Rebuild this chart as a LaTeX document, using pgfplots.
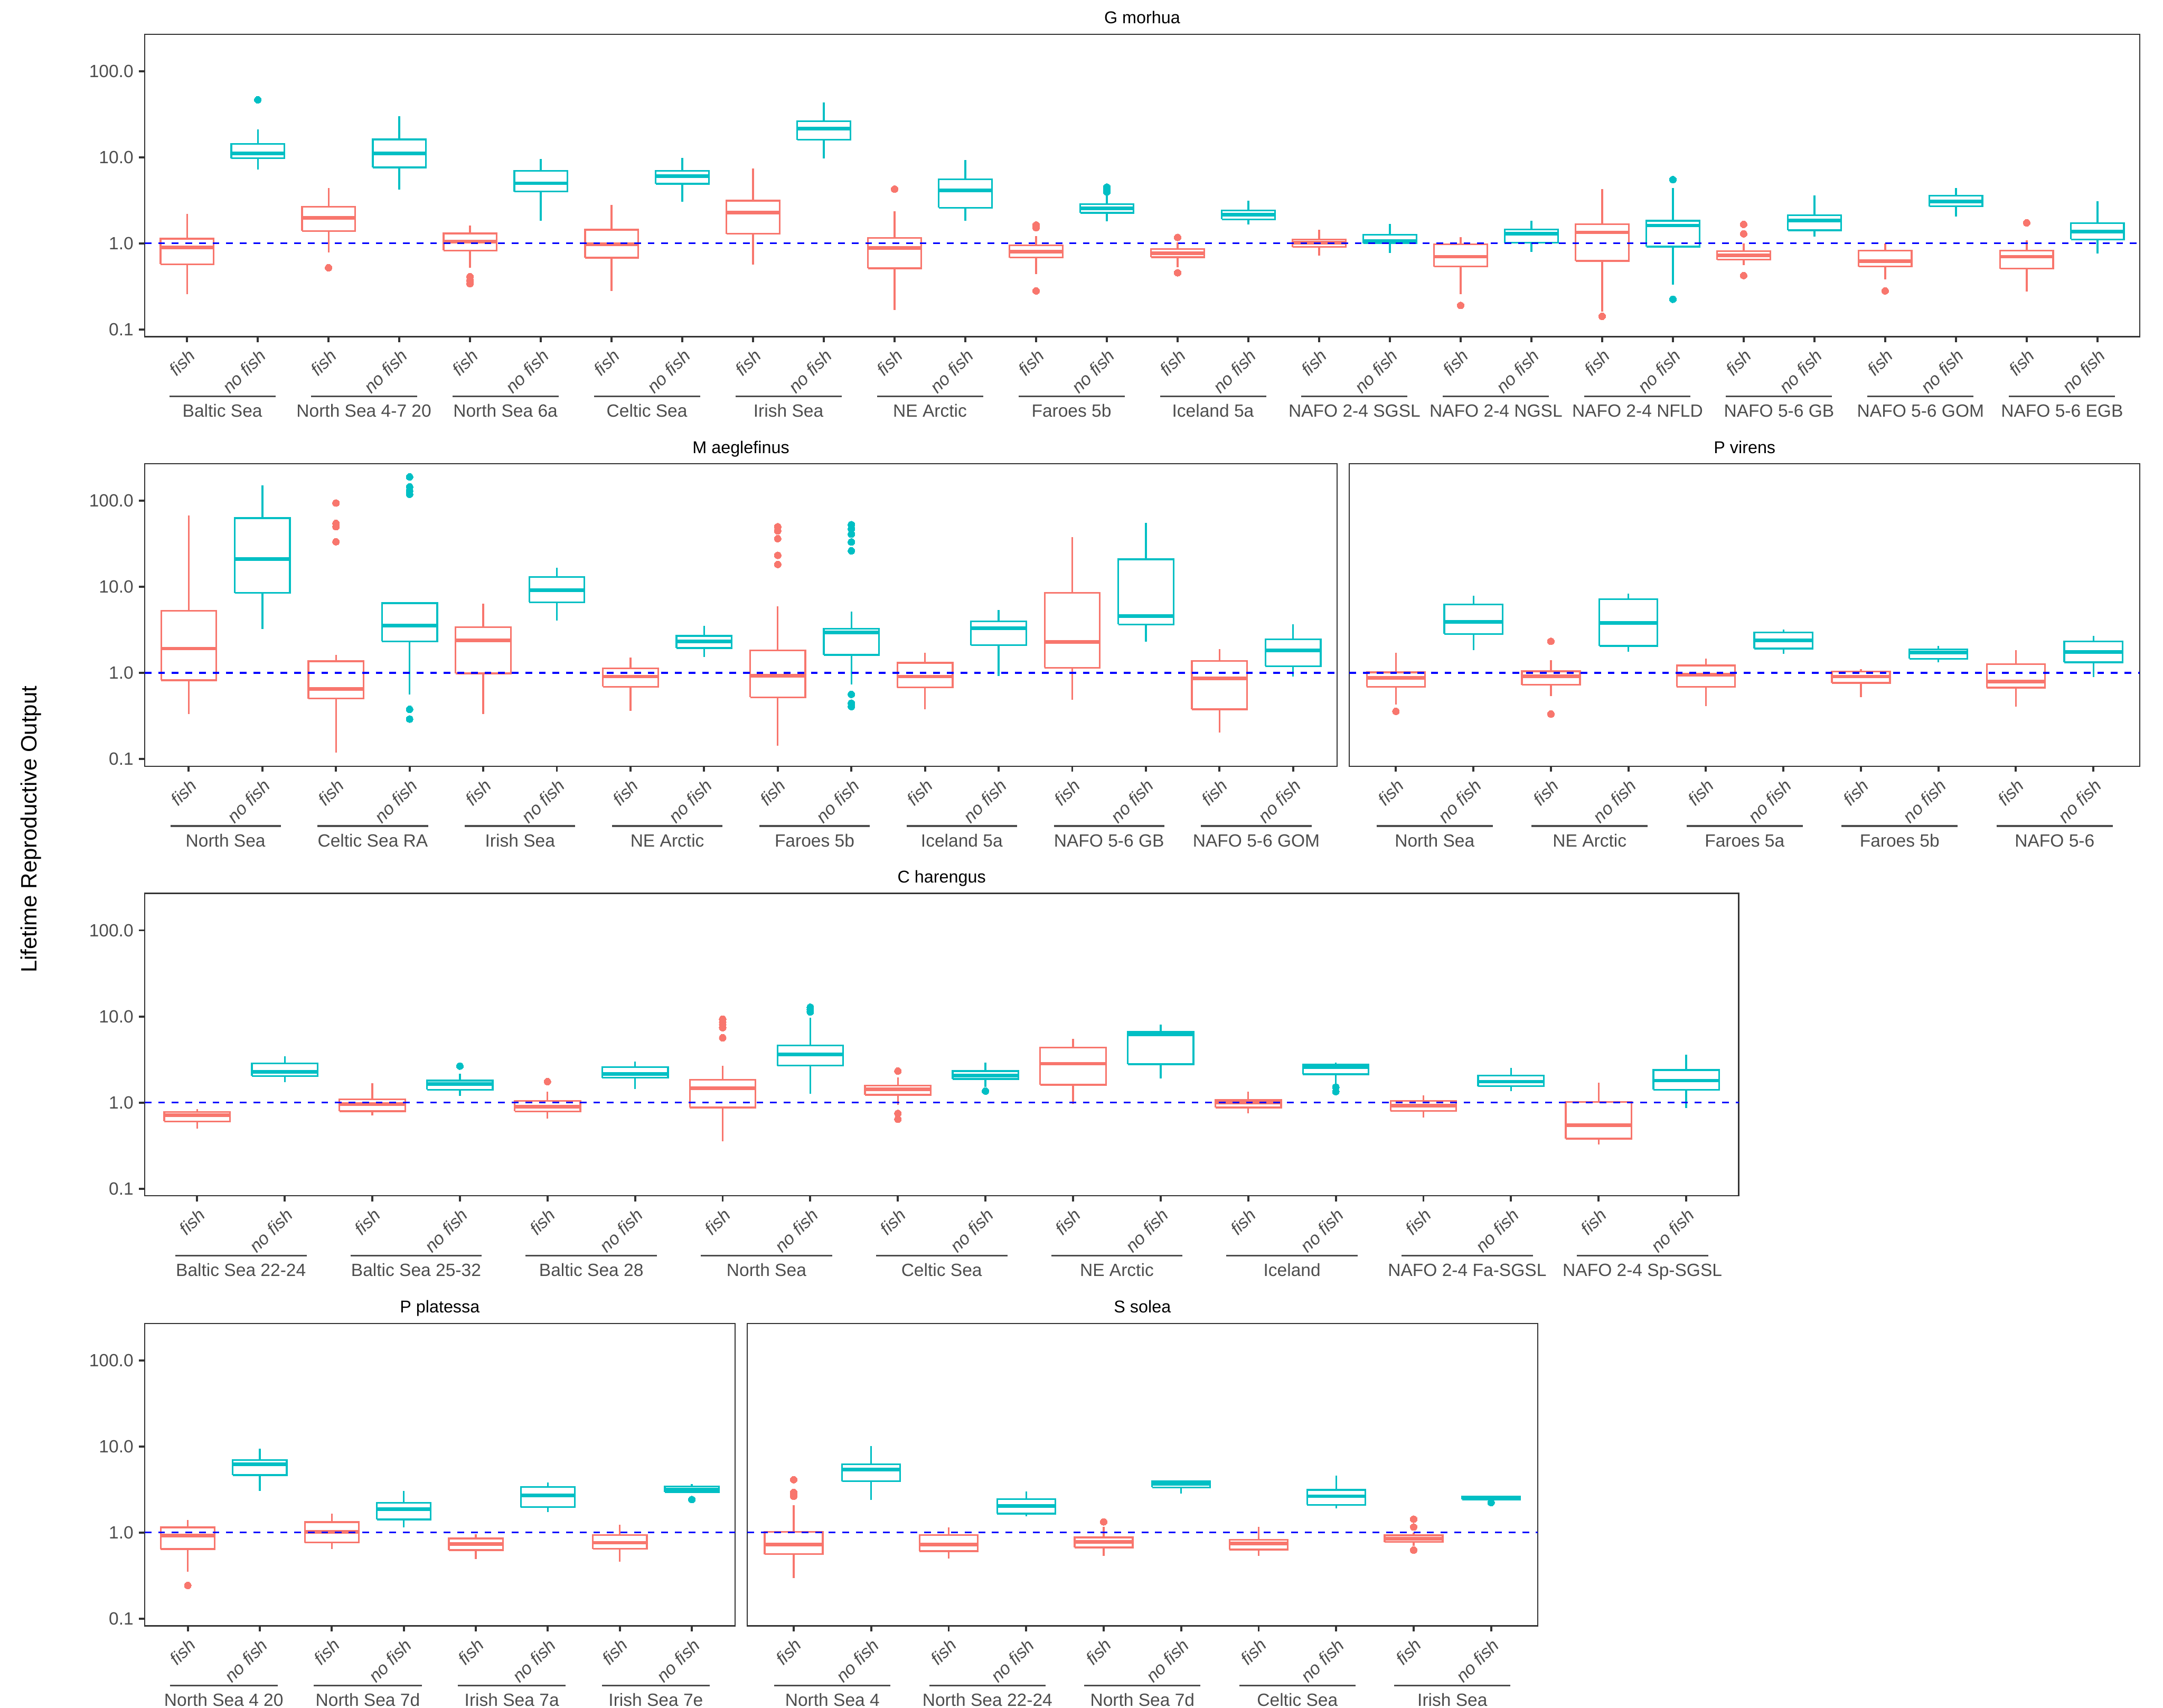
\documentclass[border=0pt]{standalone}
\usepackage{pgfplots}
\pgfplotsset{compat=1.18}
\usepackage{fontspec}
\setmainfont{Liberation Sans}
\definecolor{cfish}{HTML}{F8766D}
\definecolor{cnofish}{HTML}{00BFC4}
\definecolor{gry}{HTML}{4D4D4D}
\definecolor{frm}{HTML}{333333}
\newcommand{\lblfont}{\fontsize{11.2}{13}\selectfont}
\pgfplotsset{every axis/.append style={
   scale only axis, clip=false,
   yminorticks=false, xminorticks=false,
   tick align=outside, major tick length=3.5pt,
   xtick pos=left, ytick pos=left,
   axis line style={draw=frm, line width=0.75pt},
   major tick style={draw=frm, line width=1.3pt},
   yticklabel style={font=\lblfont, text=gry},
   xticklabel style={font=\lblfont\itshape, text=gry, yshift=-3.6pt, rotate=45, anchor=north east, inner sep=0pt},
   title style={font=\fontsize{10.8}{13}\selectfont, anchor=base, yshift=0.7pt},
 }}
% #1 colour, #2 position, #3 lower whisker, #4 Q1, #5 median, #6 Q3, #7 upper whisker
\newcommand{\bx}[7]{%
  \pgfmathsetmacro\bxl{#2-0.375}\pgfmathsetmacro\bxr{#2+0.375}%
  \addplot[draw=#1, line width=1.1pt, forget plot] coordinates {(#2,#3) (#2,#4)};
  \addplot[draw=#1, line width=1.1pt, forget plot] coordinates {(#2,#6) (#2,#7)};
  \addplot[draw=#1, fill=white, line width=1.1pt, forget plot] coordinates {(\bxl,#4) (\bxr,#4) (\bxr,#6) (\bxl,#6) (\bxl,#4)};
  \addplot[draw=#1, line width=2.3pt, forget plot] coordinates {(\bxl,#5) (\bxr,#5)};
}
% outliers: #1 colour, #2 coordinate list
\newcommand{\olr}[2]{\addplot[only marks, color=#1, mark=*, mark size=2.2pt, mark options={fill=#1, draw=#1, line width=0pt}, forget plot] coordinates {#2};}
\newcommand{\grp}[4]{\draw[gry, line width=1.1pt, yshift=-37.8pt] (axis cs:#1,0.0824) -- (axis cs:#2,0.0824);
  \node[anchor=base, text=gry, font=\lblfont, inner sep=0pt, yshift=-50.9pt] at (axis cs:#3,0.0824) {#4};}
\newcommand{\hln}[2]{\addplot[blue, line width=1.1pt, dash pattern=on 4.3pt off 4.3pt, forget plot] coordinates {(#1,1) (#2,1)};}
\begin{document}
\begin{tikzpicture}
\path (0,0) rectangle (1368pt,-1080pt);
\node[rotate=90, font=\fontsize{14}{16}\selectfont] at (19.7pt,-524.4pt) {Lifetime Reproductive Output};

% ---------------- G morhua ----------------
\begin{axis}[at={(91.44pt,-21.6pt)}, anchor=north west, width=1261.92pt, height=191.28pt,
  ymode=log, ymin=0.0824, ymax=268.5, ytick={0.1,1,10,100}, yticklabels={0.1,1.0,10.0,100.0},
  xmin=0.4, xmax=28.6, xtick={1,...,28},
  xticklabels={fish,no fish,fish,no fish,fish,no fish,fish,no fish,fish,no fish,fish,no fish,fish,no fish,fish,no fish,fish,no fish,fish,no fish,fish,no fish,fish,no fish,fish,no fish,fish,no fish},
  title={G morhua}]
\bx{cfish}{1}{0.256}{0.57}{0.89}{1.13}{2.2}
\bx{cnofish}{2}{7.23}{9.73}{11.1}{14.3}{20.9}\olr{cnofish}{(2,46.4)}
\bx{cfish}{3}{0.78}{1.39}{1.98}{2.65}{4.39}\olr{cfish}{(3,0.52)}
\bx{cnofish}{4}{4.23}{7.61}{11.1}{16.1}{30.1}
\bx{cfish}{5}{0.52}{0.824}{1.05}{1.30}{1.6}\olr{cfish}{(5,0.41)(5,0.37)(5,0.34)}
\bx{cnofish}{6}{1.83}{3.99}{4.98}{6.96}{9.59}
\bx{cfish}{7}{0.28}{0.68}{0.978}{1.44}{2.81}
\bx{cnofish}{8}{3.03}{4.91}{6.0}{6.91}{9.8}
\bx{cfish}{9}{0.569}{1.29}{2.28}{3.12}{7.39}
\bx{cnofish}{10}{9.66}{15.9}{21.4}{26.2}{43.4}
\bx{cfish}{11}{0.169}{0.512}{0.888}{1.16}{2.37}\olr{cfish}{(11,4.26)}
\bx{cnofish}{12}{1.83}{2.59}{4.14}{5.53}{9.3}
\bx{cfish}{13}{0.438}{0.684}{0.80}{0.949}{1.21}\olr{cfish}{(13,1.63)(13,1.52)(13,0.28)}
\bx{cnofish}{14}{1.80}{2.26}{2.55}{2.85}{3.65}\olr{cnofish}{(14,4.5)(14,4.3)(14,4.1)(14,3.95)}
\bx{cfish}{15}{0.527}{0.69}{0.765}{0.862}{1.03}\olr{cfish}{(15,1.17)(15,0.455)}
\bx{cnofish}{16}{1.66}{1.90}{2.15}{2.40}{3.14}
\bx{cfish}{17}{0.721}{0.908}{1.015}{1.11}{1.44}
\bx{cnofish}{18}{0.777}{1.0}{1.06}{1.26}{1.67}
\bx{cfish}{19}{0.256}{0.536}{0.70}{0.97}{1.18}\olr{cfish}{(19,0.19)}
\bx{cnofish}{20}{0.794}{1.015}{1.29}{1.45}{1.83}
\bx{cfish}{21}{0.16}{0.626}{1.34}{1.66}{4.29}\olr{cfish}{(21,0.142)}
\bx{cnofish}{22}{0.333}{0.915}{1.61}{1.83}{4.36}\olr{cnofish}{(22,5.49)(22,0.224)}
\bx{cfish}{23}{0.56}{0.645}{0.721}{0.812}{1.0}\olr{cfish}{(23,1.66)(23,1.29)(23,0.422)}
\bx{cnofish}{24}{1.20}{1.42}{1.84}{2.13}{3.59}
\bx{cfish}{25}{0.383}{0.536}{0.621}{0.824}{1.0}\olr{cfish}{(25,0.28)}
\bx{cnofish}{26}{2.04}{2.69}{3.05}{3.57}{4.36}
\bx{cfish}{27}{0.274}{0.508}{0.70}{0.824}{1.09}\olr{cfish}{(27,1.73)}
\bx{cnofish}{28}{0.765}{1.11}{1.36}{1.72}{3.10}
\hln{0.4}{28.6}
\grp{0.75}{2.25}{1.5}{Baltic Sea}
\grp{2.75}{4.25}{3.5}{North Sea 4-7 20}
\grp{4.75}{6.25}{5.5}{North Sea 6a}
\grp{6.75}{8.25}{7.5}{Celtic Sea}
\grp{8.75}{10.25}{9.5}{Irish Sea}
\grp{10.75}{12.25}{11.5}{NE Arctic}
\grp{12.75}{14.25}{13.5}{Faroes 5b}
\grp{14.75}{16.25}{15.5}{Iceland 5a}
\grp{16.75}{18.25}{17.5}{NAFO 2-4 SGSL}
\grp{18.75}{20.25}{19.5}{NAFO 2-4 NGSL}
\grp{20.75}{22.25}{21.5}{NAFO 2-4 NFLD}
\grp{22.75}{24.25}{23.5}{NAFO 5-6 GB}
\grp{24.75}{26.25}{25.5}{NAFO 5-6 GOM}
\grp{26.75}{28.25}{27.5}{NAFO 5-6 EGB}
\end{axis}

% ---------------- M aeglefinus ----------------
\begin{axis}[at={(91.44pt,-293.28pt)}, anchor=north west, width=754.32pt, height=191.28pt,
  ymode=log, ymin=0.0824, ymax=268.5, ytick={0.1,1,10,100}, yticklabels={0.1,1.0,10.0,100.0},
  xmin=0.4, xmax=16.6, xtick={1,...,16},
  xticklabels={fish,no fish,fish,no fish,fish,no fish,fish,no fish,fish,no fish,fish,no fish,fish,no fish,fish,no fish},
  title={M aeglefinus}]
\bx{cfish}{1}{0.335}{0.824}{1.92}{5.25}{67.2}
\bx{cnofish}{2}{3.24}{8.5}{21.1}{62.9}{151}
\bx{cfish}{3}{0.119}{0.505}{0.65}{1.37}{1.61}\olr{cfish}{(3,94)(3,54.6)(3,49.9)(3,33.4)}
\bx{cnofish}{4}{0.56}{2.33}{3.54}{6.46}{6.6}\olr{cnofish}{(4,189)(4,145)(4,130)(4,119)(4,0.378)(4,0.291)}
\bx{cfish}{5}{0.335}{0.99}{2.40}{3.41}{6.37}
\bx{cnofish}{6}{4.07}{6.61}{9.17}{13.0}{16.6}
\bx{cfish}{7}{0.361}{0.69}{0.908}{1.13}{1.52}
\bx{cnofish}{8}{1.54}{1.95}{2.33}{2.69}{3.54}
\bx{cfish}{9}{0.1426}{0.52}{0.928}{1.83}{5.96}\olr{cfish}{(9,49.9)(9,44.7)(9,36.3)(9,23.2)(9,18.2)}
\bx{cnofish}{10}{0.732}{1.62}{2.94}{3.26}{5.17}\olr{cnofish}{(10,52.7)(10,47)(10,40.9)(10,33.2)(10,26.2)(10,0.564)(10,0.445)(10,0.407)}
\bx{cfish}{11}{0.38}{0.679}{0.908}{1.31}{1.72}
\bx{cnofish}{12}{0.921}{2.10}{3.29}{3.98}{5.41}
\bx{cfish}{13}{0.486}{1.15}{2.30}{8.51}{37.9}
\bx{cnofish}{14}{2.30}{3.65}{4.59}{20.9}{55.4}
\bx{cfish}{15}{0.202}{0.378}{0.862}{1.38}{1.90}
\bx{cnofish}{16}{0.908}{1.20}{1.83}{2.46}{3.65}
\hln{0.4}{16.6}
\grp{0.75}{2.25}{1.5}{North Sea}
\grp{2.75}{4.25}{3.5}{Celtic Sea RA}
\grp{4.75}{6.25}{5.5}{Irish Sea}
\grp{6.75}{8.25}{7.5}{NE Arctic}
\grp{8.75}{10.25}{9.5}{Faroes 5b}
\grp{10.75}{12.25}{11.5}{Iceland 5a}
\grp{12.75}{14.25}{13.5}{NAFO 5-6 GB}
\grp{14.75}{16.25}{15.5}{NAFO 5-6 GOM}
\end{axis}

% ---------------- P virens ----------------
\begin{axis}[at={(853.44pt,-293.28pt)}, anchor=north west, width=499.92pt, height=191.28pt,
  ymode=log, ymin=0.0824, ymax=268.5, ytick=\empty,
  xmin=0.4, xmax=10.6, xtick={1,...,10},
  xticklabels={fish,no fish,fish,no fish,fish,no fish,fish,no fish,fish,no fish},
  title={P virens}]
\bx{cfish}{1}{0.43}{0.69}{0.881}{1.015}{1.71}\olr{cfish}{(1,0.358)}
\bx{cnofish}{2}{1.85}{2.83}{3.93}{6.22}{7.84}
\bx{cfish}{3}{0.536}{0.726}{0.915}{1.045}{1.40}\olr{cfish}{(3,2.33)(3,0.333)}
\bx{cnofish}{4}{1.76}{2.06}{3.81}{7.17}{8.32}
\bx{cfish}{5}{0.413}{0.69}{0.956}{1.22}{1.47}
\bx{cnofish}{6}{1.67}{1.92}{2.39}{2.96}{3.17}
\bx{cfish}{7}{0.527}{0.765}{0.908}{1.04}{1.10}
\bx{cnofish}{8}{1.32}{1.46}{1.72}{1.88}{2.06}
\bx{cfish}{9}{0.404}{0.674}{0.794}{1.27}{1.83}
\bx{cnofish}{10}{0.901}{1.33}{1.76}{2.32}{2.71}
\hln{0.4}{10.6}
\grp{0.75}{2.25}{1.5}{North Sea}
\grp{2.75}{4.25}{3.5}{NE Arctic}
\grp{4.75}{6.25}{5.5}{Faroes 5a}
\grp{6.75}{8.25}{7.5}{Faroes 5b}
\grp{8.75}{10.25}{9.5}{NAFO 5-6}
\end{axis}

% ---------------- C harengus ----------------
\begin{axis}[at={(91.44pt,-564.96pt)}, anchor=north west, width=1008.24pt, height=191.28pt,
  ymode=log, ymin=0.0824, ymax=268.5, ytick={0.1,1,10,100}, yticklabels={0.1,1.0,10.0,100.0},
  xmin=0.4, xmax=18.6, xtick={1,...,18},
  xticklabels={fish,no fish,fish,no fish,fish,no fish,fish,no fish,fish,no fish,fish,no fish,fish,no fish,fish,no fish,fish,no fish},
  title={C harengus}]
\bx{cfish}{1}{0.497}{0.603}{0.71}{0.777}{0.843}
\bx{cnofish}{2}{1.73}{2.03}{2.28}{2.85}{3.46}
\bx{cfish}{3}{0.705}{0.794}{0.956}{1.085}{1.67}
\bx{cnofish}{4}{1.20}{1.41}{1.65}{1.80}{2.17}\olr{cnofish}{(4,2.65)}
\bx{cfish}{5}{0.65}{0.788}{0.895}{1.04}{1.34}\olr{cfish}{(5,1.75)}
\bx{cnofish}{6}{1.44}{1.94}{2.15}{2.57}{2.98}
\bx{cfish}{7}{0.353}{0.875}{1.46}{1.84}{2.69}\olr{cfish}{(7,9.3)(7,8.6)(7,8.0)(7,7.4)(7,5.65)}
\bx{cnofish}{8}{1.27}{2.69}{3.62}{4.59}{9.66}\olr{cnofish}{(8,12.8)(8,12.0)(8,11.3)}
\bx{cfish}{9}{0.942}{1.23}{1.42}{1.57}{1.97}\olr{cfish}{(9,2.32)(9,0.748)(9,0.64)}
\bx{cnofish}{10}{1.53}{1.88}{2.07}{2.32}{2.9}\olr{cnofish}{(10,1.36)}
\bx{cfish}{11}{0.963}{1.61}{2.83}{4.36}{5.53}
\bx{cnofish}{12}{1.91}{2.79}{6.18}{6.66}{8.08}
\bx{cfish}{13}{0.748}{0.875}{0.997}{1.077}{1.33}
\bx{cnofish}{14}{1.65}{2.13}{2.59}{2.77}{2.92}\olr{cnofish}{(14,1.51)(14,1.34)}
\bx{cfish}{15}{0.674}{0.80}{0.921}{1.045}{1.22}
\bx{cnofish}{16}{1.35}{1.55}{1.75}{2.06}{2.53}
\bx{cfish}{17}{0.325}{0.38}{0.543}{1.015}{1.71}
\bx{cnofish}{18}{0.862}{1.41}{1.80}{2.39}{3.62}
\hln{0.4}{18.6}
\grp{0.75}{2.25}{1.5}{Baltic Sea 22-24}
\grp{2.75}{4.25}{3.5}{Baltic Sea 25-32}
\grp{4.75}{6.25}{5.5}{Baltic Sea 28}
\grp{6.75}{8.25}{7.5}{North Sea}
\grp{8.75}{10.25}{9.5}{Celtic Sea}
\grp{10.75}{12.25}{11.5}{NE Arctic}
\grp{12.75}{14.25}{13.5}{Iceland}
\grp{14.75}{16.25}{15.5}{NAFO 2-4 Fa-SGSL}
\grp{16.75}{18.25}{17.5}{NAFO 2-4 Sp-SGSL}
\end{axis}

% ---------------- P platessa ----------------
\begin{axis}[at={(91.44pt,-836.88pt)}, anchor=north west, width=373.44pt, height=191.28pt,
  ymode=log, ymin=0.0824, ymax=268.5, ytick={0.1,1,10,100}, yticklabels={0.1,1.0,10.0,100.0},
  xmin=0.4, xmax=8.6, xtick={1,...,8},
  xticklabels={fish,no fish,fish,no fish,fish,no fish,fish,no fish},
  title={P platessa}]
\bx{cfish}{1}{0.351}{0.643}{0.928}{1.146}{1.40}\olr{cfish}{(1,0.243)}
\bx{cnofish}{2}{3.05}{4.64}{6.18}{6.98}{9.4}
\bx{cfish}{3}{0.643}{0.767}{1.02}{1.32}{1.65}
\bx{cnofish}{4}{1.15}{1.42}{1.88}{2.21}{3.03}
\bx{cfish}{5}{0.493}{0.625}{0.737}{0.855}{0.96}
\bx{cnofish}{6}{1.73}{1.97}{2.71}{3.37}{3.79}
\bx{cfish}{7}{0.461}{0.648}{0.762}{0.934}{1.23}
\bx{cnofish}{8}{2.94}{2.94}{3.17}{3.42}{3.66}\olr{cnofish}{(8,2.42)}
\hln{0.4}{8.6}
\grp{0.75}{2.25}{1.5}{North Sea 4 20}
\grp{2.75}{4.25}{3.5}{North Sea 7d}
\grp{4.75}{6.25}{5.5}{Irish Sea 7a}
\grp{6.75}{8.25}{7.5}{Irish Sea 7e}
\end{axis}

% ---------------- S solea ----------------
\begin{axis}[at={(472.56pt,-836.88pt)}, anchor=north west, width=499.92pt, height=191.28pt,
  ymode=log, ymin=0.0824, ymax=268.5, ytick=\empty,
  xmin=0.4, xmax=10.6, xtick={1,...,10},
  xticklabels={fish,no fish,fish,no fish,fish,no fish,fish,no fish,fish,no fish},
  title={S solea}]
\bx{cfish}{1}{0.296}{0.561}{0.727}{1.02}{2.08}\olr{cfish}{(1,4.11)(1,2.93)(1,2.78)(1,2.64)}
\bx{cnofish}{2}{2.39}{3.94}{5.40}{6.22}{10.07}
\bx{cfish}{3}{0.50}{0.609}{0.722}{0.934}{1.15}
\bx{cnofish}{4}{1.55}{1.66}{2.04}{2.45}{2.98}
\bx{cfish}{5}{0.535}{0.67}{0.778}{0.879}{1.17}\olr{cfish}{(5,1.33)}
\bx{cnofish}{6}{2.83}{3.35}{3.68}{3.97}{4.02}
\bx{cfish}{7}{0.535}{0.634}{0.742}{0.821}{1.17}
\bx{cnofish}{8}{1.91}{2.10}{2.64}{3.13}{4.61}
\bx{cfish}{9}{0.703}{0.778}{0.85}{0.928}{0.99}\olr{cfish}{(9,1.43)(9,1.16)(9,0.626)}
\bx{cnofish}{10}{2.42}{2.42}{2.52}{2.61}{2.68}\olr{cnofish}{(10,2.23)}
\hln{0.4}{10.6}
\grp{0.75}{2.25}{1.5}{North Sea 4}
\grp{2.75}{4.25}{3.5}{North Sea 22-24}
\grp{4.75}{6.25}{5.5}{North Sea 7d}
\grp{6.75}{8.25}{7.5}{Celtic Sea}
\grp{8.75}{10.25}{9.5}{Irish Sea}
\end{axis}
\end{tikzpicture}
\end{document}
